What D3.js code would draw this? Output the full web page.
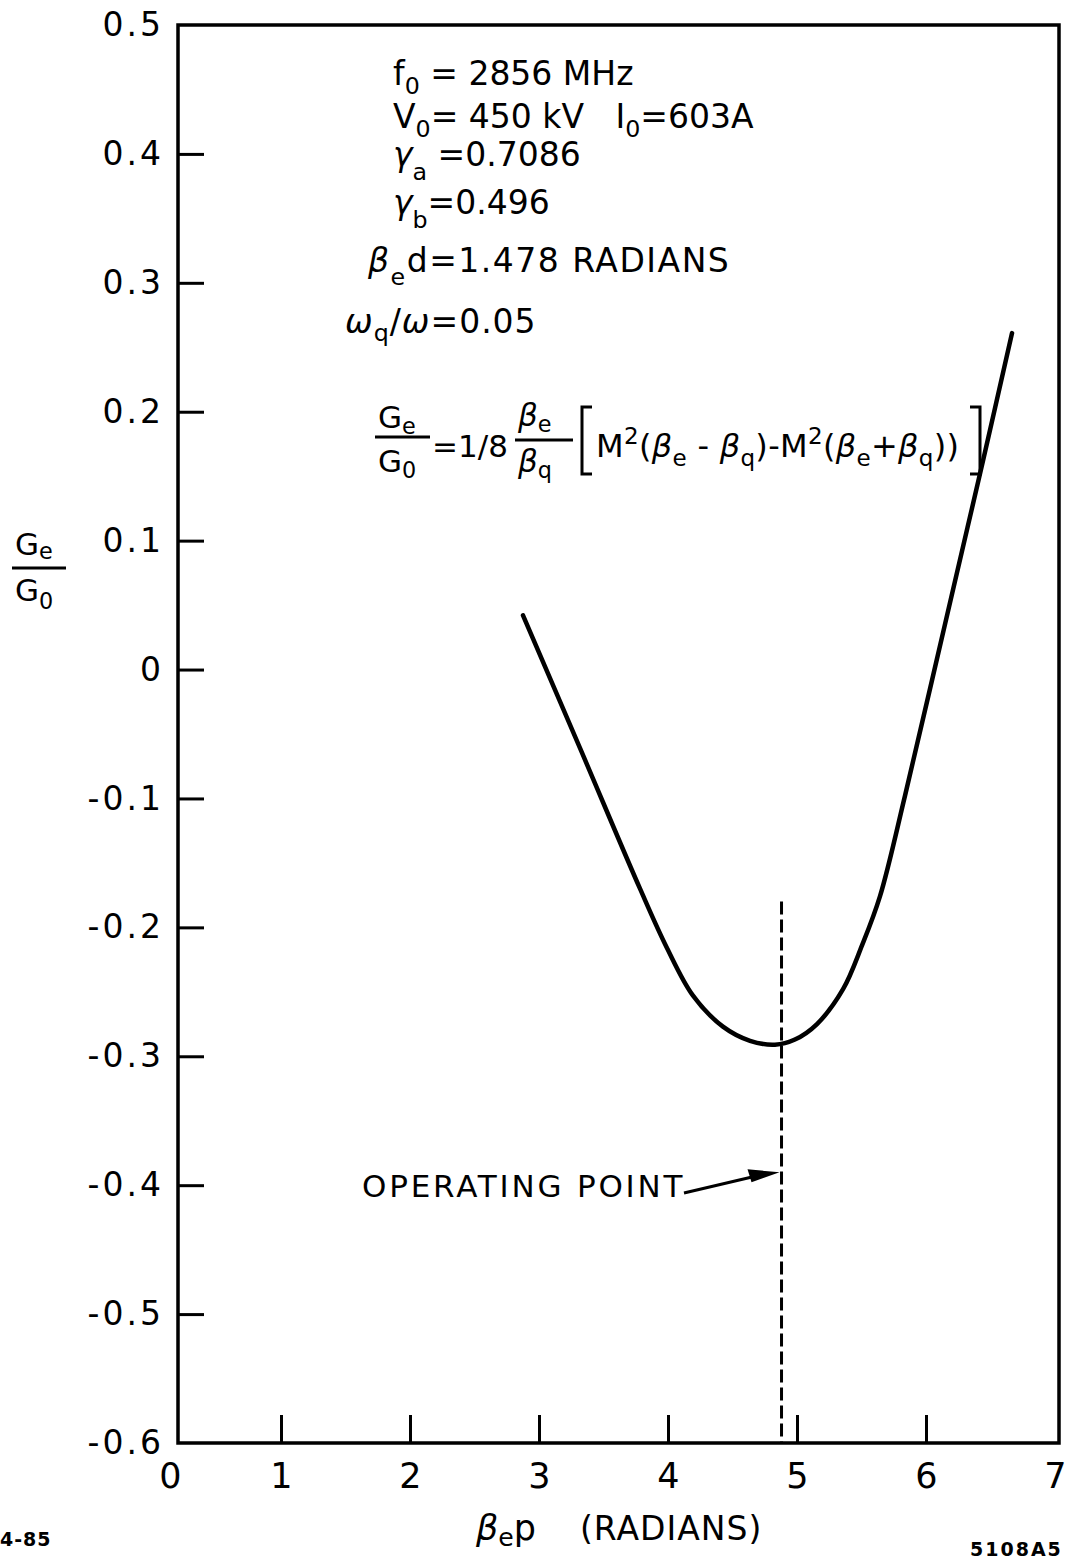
<!DOCTYPE html>
<html>
<head>
<meta charset="utf-8">
<script src="https://cdn.jsdelivr.net/npm/d3@7"></script>
<style>
  body { margin: 0; background: #fff; }
  svg text { font-family: "DejaVu Sans", sans-serif; fill: #000; }
</style>
</head>
<body>
<div id="chart"></div>
<script>
// curve: beta_e p (radians) vs Ge/G0
const betaP = [2.876, 3.318, 3.783, 3.992, 4.194, 4.426, 4.636, 4.829, 4.984, 5.155, 5.357, 5.504, 5.643, 5.837, 6.031, 6.240, 6.442, 6.667];
const gRatio = [0.042, -0.061, -0.170, -0.216, -0.253, -0.277, -0.288, -0.291, -0.287, -0.275, -0.248, -0.214, -0.176, -0.098, -0.015, 0.075, 0.162, 0.261];

const xTicks = [0, 1, 2, 3, 4, 5, 6, 7];
const yTicks = [0.5, 0.4, 0.3, 0.2, 0.1, 0, -0.1, -0.2, -0.3, -0.4, -0.5, -0.6];
const yTickLabels = ["0.5", "0.4", "0.3", "0.2", "0.1", "0", "-0.1", "-0.2", "-0.3", "-0.4", "-0.5", "-0.6"];

const operatingPoint = 4.88;     // dashed line position
const operatingTop = -0.18;      // where the dashed line starts
const arrowTarget = -0.39;

const width = 1078, height = 1561;
const frameLeft = 178;

const svg = d3.select('#chart').append('svg')
    .attr('width', width)
    .attr('height', height);

const x = d3.scaleLinear().domain([0, 7]).range([152, 1055]);
const y = d3.scaleLinear().domain([-0.6, 0.5]).range([1443, 25]);

// frame
svg.append('path')
    .attr('d', `M${frameLeft},${y(0.5)} H${x(7) + 4} V${y(-0.6)} H${frameLeft} Z`)
    .attr('fill', 'none')
    .attr('stroke', '#000')
    .attr('stroke-width', 3.5);

// y axis
const yAxis = d3.axisLeft(y)
    .tickValues(yTicks)
    .tickSize(-26)
    .tickPadding(14)
    .tickFormat((d, i) => yTickLabels[i]);

const gy = svg.append('g')
    .attr('transform', `translate(${frameLeft},0)`)
    .call(yAxis);
gy.select('.domain').remove();
gy.selectAll('.tick line').attr('stroke-width', 3)
    .attr('display', d => (d === 0.5 || d === -0.6) ? 'none' : null);
gy.selectAll('.tick text')
    .attr('font-size', 33)
    .attr('letter-spacing', 3)
    .attr('font-family', '"DejaVu Sans", sans-serif');

// x axis
const xAxis = d3.axisBottom(x)
    .tickValues(xTicks)
    .tickSize(-28)
    .tickPadding(20)
    .tickFormat(d3.format('d'));

const gx = svg.append('g')
    .attr('transform', `translate(0,${y(-0.6)})`)
    .call(xAxis);
gx.select('.domain').remove();
gx.selectAll('.tick line').attr('stroke-width', 3)
    .attr('display', d => (d === 0 || d === 7) ? 'none' : null);
gx.selectAll('.tick text')
    .attr('font-size', 35)
    .attr('font-family', '"DejaVu Sans", sans-serif');
gx.selectAll('.tick').filter(d => d === 0).select('text').attr('dx', 18);

// the curve
const line = d3.line()
    .x(d => x(d[0]))
    .y(d => y(d[1]))
    .curve(d3.curveCatmullRom.alpha(0.5));

svg.append('path')
    .datum(betaP.map((b, i) => [b, gRatio[i]]))
    .attr('d', line)
    .attr('fill', 'none')
    .attr('stroke', '#000')
    .attr('stroke-width', 4.5)
    .attr('stroke-linecap', 'round');

// operating point dashed line
svg.append('line')
    .attr('x1', x(operatingPoint)).attr('x2', x(operatingPoint))
    .attr('y1', y(operatingTop)).attr('y2', y(-0.6))
    .attr('stroke', '#000')
    .attr('stroke-width', 3)
    .attr('stroke-dasharray', '13,5');

// helper for text with subscripts
function rich(x0, y0, parts, size, extra) {
  const t = svg.append('text')
      .attr('x', x0).attr('y', y0)
      .attr('font-size', size);
  if (extra) extra(t);
  let shift = 0;
  parts.forEach(p => {
    const s = t.append('tspan').text(p.t);
    const target = p.sub ? p.sub : 0;
    s.attr('dy', target - shift);
    shift = target;
    if (p.sub) s.attr('font-size', size * 0.72);
    if (p.dx) s.attr('dx', p.dx);
    if (p.it) s.attr('font-style', 'italic');
  });
  return t;
}

// parameter block
const fs = 33;
rich(393, 85, [{t: 'f'}, {t: '0', sub: 9}, {t: ' = 2856 MHz'}], fs);
rich(393, 128, [{t: 'V'}, {t: '0', sub: 9}, {t: '= 450 kV\u00a0\u00a0\u00a0I'}, {t: '0', sub: 9}, {t: '=603A'}], fs);
rich(393, 166, [{t: 'γ', it: true}, {t: 'a', sub: 14}, {t: ' =0.7086'}], fs);
rich(393, 214, [{t: 'γ', it: true}, {t: 'b', sub: 14}, {t: '=0.496'}], fs);
rich(368, 272, [{t: 'β', it: true}, {t: 'e', sub: 13}, {t: 'd=1.478 RADIANS'}], fs, t => t.attr('letter-spacing', 1.5));
rich(345, 333, [{t: 'ω', it: true}, {t: 'q', sub: 8}, {t: '/'}, {t: 'ω', it: true}, {t: '=0.05'}], fs, t => t.attr('letter-spacing', 1));

// formula
const ff = 31;
rich(378, 428, [{t: 'G'}, {t: 'e', sub: 6}], ff);
svg.append('line').attr('x1', 375).attr('x2', 430).attr('y1', 437).attr('y2', 437)
    .attr('stroke', '#000').attr('stroke-width', 3);
rich(378, 472, [{t: 'G'}, {t: '0', sub: 6}], ff);
rich(432, 457, [{t: '=1/8'}], ff);
rich(518, 426, [{t: 'β', it: true}, {t: 'e', sub: 6}], ff);
svg.append('line').attr('x1', 515).attr('x2', 573).attr('y1', 440).attr('y2', 440)
    .attr('stroke', '#000').attr('stroke-width', 3);
rich(518, 472, [{t: 'β', it: true}, {t: 'q', sub: 6}], ff);
svg.append('path')
    .attr('d', 'M592,407 H582 V474 H592 M970,407 H980 V474 H970')
    .attr('fill', 'none').attr('stroke', '#000').attr('stroke-width', 3);
rich(596, 457, [
  {t: 'M'}, {t: '2', sub: -13}, {t: '('}, {t: 'β', it: true}, {t: 'e', sub: 9}, {t: ' - '},
  {t: 'β', it: true}, {t: 'q', sub: 9}, {t: ')-M'}, {t: '2', sub: -13}, {t: '('},
  {t: 'β', it: true}, {t: 'e', sub: 9}, {t: '+'}, {t: 'β', it: true}, {t: 'q', sub: 9}, {t: '))'}
], 32, t => t.attr('letter-spacing', 0.3));

// y axis title
rich(15, 555, [{t: 'G'}, {t: 'e', sub: 4}], 31);
svg.append('line').attr('x1', 12).attr('x2', 66).attr('y1', 568).attr('y2', 568)
    .attr('stroke', '#000').attr('stroke-width', 3);
rich(15, 601, [{t: 'G'}, {t: '0', sub: 8}], 31);

// x axis title
rich(476, 1540, [{t: 'β', it: true}, {t: 'e', sub: 6}, {t: 'p'}], 35);
rich(580, 1540, [{t: '(RADIANS)'}], 33, t => t.attr('letter-spacing', 1));

// operating point label and arrow
rich(362, 1197, [{t: 'OPERATING POINT'}], 31, t => t.attr('letter-spacing', 2.8));
svg.append('path')
    .attr('d', `M684,1193 L${x(operatingPoint) - 22},${y(arrowTarget) + 3}`)
    .attr('stroke', '#000').attr('stroke-width', 3);
svg.append('path')
    .attr('d', `M${x(operatingPoint) - 2},${y(arrowTarget)} L${x(operatingPoint) - 34},${y(arrowTarget) - 3} L${x(operatingPoint) - 30},${y(arrowTarget) + 10} Z`)
    .attr('fill', '#000');

// corner stamps
svg.append('text').attr('x', 0).attr('y', 1546).attr('font-size', 19).attr('font-weight', 'bold')
    .attr('letter-spacing', 1).text('4-85');
svg.append('text').attr('x', 970).attr('y', 1556).attr('font-size', 19).attr('font-weight', 'bold')
    .attr('letter-spacing', 2).text('5108A5');
</script>
</body>
</html>
